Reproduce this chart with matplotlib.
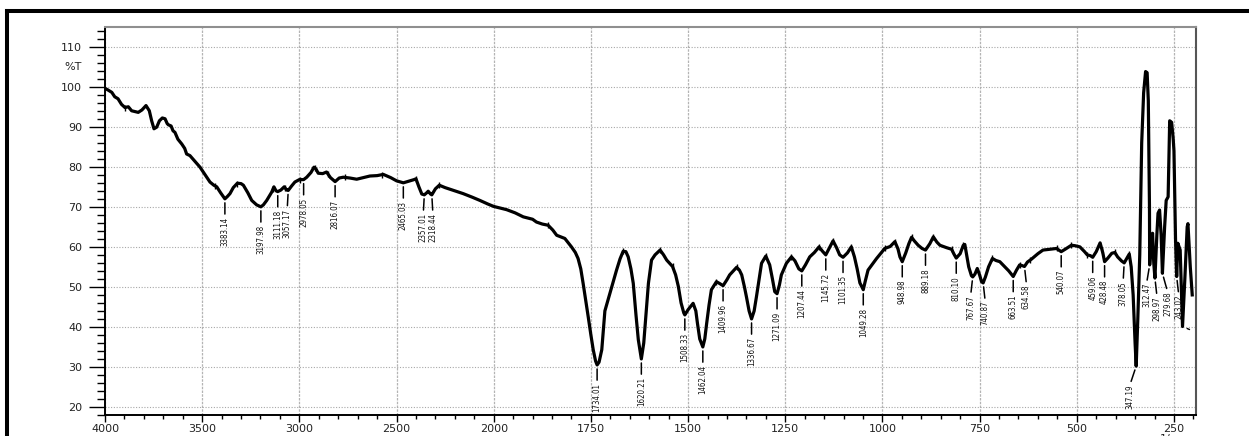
import numpy as np
import matplotlib
matplotlib.use("Agg")
import matplotlib.pyplot as plt
from matplotlib import font_manager
from matplotlib.font_manager import FontProperties
from matplotlib.lines import Line2D

# ---- spectrum: wavenumber (1/cm) and transmittance (%T) ----
wavenumber = [
    4000, 3985, 3965, 3950, 3933, 3915, 3897, 3880, 3863, 3845, 3829, 3810, 3789, 3772,
    3760, 3748, 3734, 3720, 3705, 3691, 3680, 3674, 3660, 3650, 3640, 3625, 3605, 3590,
    3580, 3563, 3540, 3511, 3485, 3460, 3440, 3425, 3405, 3383.14, 3370, 3357, 3340, 3319,
    3300, 3288, 3265, 3245, 3220, 3197.98, 3185, 3168, 3142, 3131, 3120, 3111.18, 3095,
    3078, 3065, 3057.17, 3040, 3023, 3000, 2978.05, 2962, 2940, 2925, 2915, 2903, 2880,
    2860, 2840, 2816.07, 2795, 2774, 2740, 2705, 2670, 2637, 2600, 2568, 2530, 2500,
    2465.03, 2430, 2410, 2400, 2385, 2370, 2357.01, 2345, 2337, 2325, 2318.44, 2300, 2280,
    2250, 2200, 2157, 2110, 2071, 2030, 2000, 1967, 1945, 1924, 1900, 1890, 1875, 1860,
    1848, 1838, 1817, 1800, 1790, 1783, 1776, 1770, 1763, 1757, 1750, 1744, 1738, 1734.01,
    1729, 1722, 1714, 1701, 1684, 1675, 1667, 1660, 1654, 1647, 1641, 1634, 1628, 1620.21,
    1614, 1608, 1602, 1594, 1585, 1572, 1563, 1555, 1540, 1532, 1525, 1518, 1511, 1508.33,
    1500, 1487, 1480, 1476, 1470, 1462.04, 1457, 1452, 1446, 1440, 1427, 1418, 1409.96,
    1400, 1393, 1375, 1368, 1362, 1355, 1350, 1343, 1336.67, 1330, 1324, 1318, 1311, 1300,
    1290, 1283, 1277, 1271.09, 1265, 1260, 1247, 1234, 1225, 1215, 1207.44, 1198, 1187,
    1175, 1163, 1155, 1145.72, 1135, 1127, 1118, 1110, 1101.35, 1090, 1080, 1072, 1065,
    1058, 1049.28, 1044, 1037, 1025, 1015, 1005, 994, 980, 968, 960, 955, 948.98, 940, 932,
    925, 918, 908, 898, 889.18, 878, 869, 860, 852, 835, 822, 816, 810.10, 800, 792, 788,
    784, 778, 771, 767.67, 762, 756, 750, 745, 740.87, 735, 727, 717, 708, 698, 685, 675,
    667, 663.51, 655, 647, 640, 634.58, 627, 617, 600, 587, 570, 552, 546, 540.07, 530,
    514, 505, 492, 480, 473, 465, 459.06, 450, 440, 433, 428.48, 420, 410, 402, 395, 385,
    378.05, 372, 365, 360, 355, 350, 347.19, 343, 338, 333, 328, 323, 319, 316, 313,
    312.47, 308, 305, 302, 298.97, 294, 291, 287, 283, 279.68, 274, 270, 265, 261, 256,
    252, 250, 246, 243.02, 240, 234, 228, 222, 216, 214, 208, 203,
]
transmittance = [
    99.6, 99.2, 98.6, 97.5, 97.0, 95.6, 94.8, 95.0, 94.0, 93.8, 93.6, 94.2, 95.3, 94.0,
    91.5, 89.5, 89.9, 91.5, 92.2, 92.0, 90.8, 90.5, 90.2, 89.0, 88.6, 86.9, 85.7, 84.6,
    83.2, 82.8, 81.5, 79.9, 78.0, 76.2, 75.4, 75.0, 73.5, 72.0, 72.6, 73.3, 74.8, 75.9,
    75.8, 75.4, 73.5, 71.6, 70.5, 70.0, 70.5, 71.6, 73.7, 75.0, 74.0, 73.8, 74.2,
    75.0, 74.2, 74.1, 75.2, 76.2, 76.8, 76.8, 77.4, 78.6, 79.9, 79.5, 78.4, 78.3,
    78.7, 77.3, 76.3, 77.2, 77.4, 77.2, 76.9, 77.3, 77.7, 77.8, 78.1, 77.3, 76.5,
    76.0, 76.5, 76.8, 77.0, 75.0, 73.2, 73.0, 73.5, 73.9, 73.2, 73.0, 74.5, 75.4,
    74.8, 74.0, 73.3, 72.4, 71.6, 70.7, 70.1, 69.3, 68.5, 67.5, 66.9, 66.2, 65.7, 65.4,
    64.2, 62.9, 62.1, 60.0, 58.6, 57.1, 54.5, 50.9, 46.5, 42.6, 38.0, 34.3, 31.5, 30.5,
    31.2, 34.3, 44.0, 48.4, 54.2, 57.0, 58.9, 58.8, 57.5, 54.5, 50.9, 43.0, 36.8, 32.0,
    36.0, 43.5, 50.9, 56.7, 58.0, 59.2, 58.0, 56.7, 55.1, 53.0, 50.1, 46.0, 43.5, 43.0,
    44.3, 45.9, 44.0, 41.0, 37.0, 35.0, 37.0, 41.0, 45.5, 49.3, 51.3, 50.8, 50.3,
    51.8, 53.0, 54.9, 54.2, 53.0, 50.0, 47.6, 44.0, 42.0, 44.0, 47.6, 51.5, 55.9, 57.7,
    55.5, 52.0, 48.8, 48.3, 50.5, 53.0, 55.9, 57.5, 56.5, 54.5, 54.0, 55.5, 57.5,
    58.6, 60.0, 59.0, 58.0, 60.0, 61.5, 59.8, 58.0, 57.4, 58.5, 60.0, 57.5, 54.5,
    51.0, 49.3, 51.5, 54.2, 55.8, 57.1, 58.3, 59.6, 60.1, 61.3, 59.5, 57.5, 56.3, 58.5, 60.8,
    62.4, 61.5, 60.4, 59.6, 59.2, 60.8, 62.5, 61.2, 60.4, 59.8, 59.4, 58.2, 57.2, 58.3, 60.4, 60.6,
    58.4, 55.0, 52.8, 52.5, 53.2, 54.6, 53.0, 51.3, 51.0, 52.5, 55.0, 57.1, 56.6, 56.3, 55.0, 54.0,
    53.0, 52.6, 54.2, 55.5, 55.3, 55.1, 56.2, 56.9, 58.3, 59.2, 59.4, 59.6, 59.2, 58.8, 59.4,
    60.4, 60.3, 60.0, 58.8, 58.0, 57.8, 57.4, 58.8, 61.0, 58.5, 56.3, 57.2, 58.4, 58.6, 57.5, 56.5,
    56.0, 57.0, 58.2, 55.0, 48.0, 36.0, 30.2, 42.0, 58.0, 86.0, 98.5, 103.8, 103.5, 96.5, 70.0,
    55.5, 62.0, 63.4, 56.0, 52.2, 63.0, 68.4, 69.2, 63.0, 53.4, 65.0, 71.6, 72.5, 91.5, 91.1,
    87.0, 84.0, 62.0, 52.6, 60.9, 59.2, 40.1, 52.0, 65.0, 65.8, 55.0, 48.0,
]

# picked absorption bands (labelled) and horizontal nudge of each label in pixels
peak_wavenumbers = [
    3383.14, 3197.98, 3111.18, 3057.17, 2978.05, 2816.07, 2465.03, 2357.01, 2318.44,
    1734.01, 1620.21, 1508.33, 1462.04, 1409.96, 1336.67, 1271.09, 1207.44, 1145.72,
    1101.35, 1049.28, 948.98, 889.18, 810.10, 767.67, 740.87, 663.51, 634.58, 540.07,
    459.06, 428.48, 378.05, 347.19, 312.47, 298.97, 279.68, 243.02,
]
label_nudge_px = [
    0, 0, 0, -1, 0, 0, 0, -1, 1,
    0, 0, 0, 0, 0, 0, 0, 0, 0,
    0, 0, 0, 0, 0, -2, 2, 0, 2, 0,
    0, 0, -1, -6, -3, 2, 5, 2,
]
# small peak-pick ticks drawn across the trace at local maxima
pick_marks = [
    3897, 3434, 3322, 3135, 3074, 2997, 2920, 2852, 2765, 2577, 2400, 2280, 1860, 1667,
    1572, 1540, 1427, 1375, 1300, 1234, 1163, 1127, 1080, 994, 968, 925, 869, 822, 792,
    717, 647, 620, 552, 514, 473, 435, 402, 365,
]

x_major = [4000, 3500, 3000, 2500, 2000, 1750, 1500, 1250, 1000, 750, 500, 250]
y_major = [20, 30, 40, 50, 60, 70, 80, 90, 100, 110]

wn = np.asarray(wavenumber, float)
tr = np.asarray(transmittance, float)


def trace_at(w):
    return np.interp(w, wn[::-1], tr[::-1])


# split abscissa: 500 1/cm per division above 2000, 250 1/cm per division below
# (monotonically increasing; the axis limits are given high-to-low so 4000 sits left)
def fwd(x):
    x = np.asarray(x, float)
    return np.where(x >= 2000, (x - 4000.0) / 500.0, -4.0 - (2000.0 - x) / 250.0)


def inv(u):
    u = np.asarray(u, float)
    return np.where(u >= -4, 4000.0 + 500.0 * u, 2000.0 + 250.0 * (u + 4.0))


def narrow_font(size):
    """Pick a condensed sans face for the small peak labels."""
    entries = font_manager.fontManager.ttflist

    def regular(f):
        return f.style == "normal" and f.weight in (400, "normal", "regular", "book")

    for f in entries:
        if f.name == "Liberation Sans Narrow" and regular(f):
            return FontProperties(fname=f.fname, size=size), 1.0
    for f in entries:
        if "condensed" in str(f.stretch).lower() and f.name == "DejaVu Sans" and regular(f):
            return FontProperties(fname=f.fname, size=size), 0.92
    for f in entries:
        if ("Narrow" in f.name or "Condensed" in f.name
                or "condensed" in str(f.stretch).lower()) and regular(f):
            return FontProperties(fname=f.fname, size=size), 1.0
    return FontProperties(family="DejaVu Sans", size=size * 0.85), 1.0


W, H = 1249, 436
fig = plt.figure(figsize=(W / 100, H / 100), dpi=100)
fig.patch.set_facecolor("white")

left_px, right_px, top_px, bottom_px = 105, 1196, 26.7, 415
ax = fig.add_axes([left_px / W, (H - bottom_px) / H,
                   (right_px - left_px) / W, (bottom_px - top_px) / H])
ax.set_xscale("function", functions=(fwd, inv))
ax.set_xlim(4000, 193.3)
ax.set_ylim(18.33, 115.0)

# trace
ax.plot(wn, tr, color="black", lw=2.3, solid_joinstyle="round", zorder=4)
ax.plot(pick_marks, trace_at(np.asarray(pick_marks, float)), ls="none", marker="|",
        ms=5, mew=1.0, color="black", zorder=5)

# peak labels
pt_per_px = 0.72
label_fp, _scale = narrow_font(6.2)
label_fp.set_size(label_fp.get_size() * _scale)
for w, dx in zip(peak_wavenumbers, label_nudge_px):
    ax.annotate(f"{w:.2f}", xy=(w, trace_at(w)), xytext=(dx * pt_per_px, -18 * pt_per_px),
                textcoords="offset points", rotation=90, ha="center", va="top",
                fontproperties=label_fp, color="#111111", zorder=2,
                arrowprops=dict(arrowstyle="-", color="black", lw=1.1,
                                shrinkA=0, shrinkB=4 * pt_per_px, relpos=(0.5, 1.0)))
# connector of the last band, whose label falls outside the frame
ax.annotate("", xy=(228, trace_at(228)), xytext=(7 * pt_per_px, -3 * pt_per_px),
            textcoords="offset points", zorder=2,
            arrowprops=dict(arrowstyle="-", color="black", lw=1.0,
                            shrinkA=0, shrinkB=5 * pt_per_px))

# axes, ticks, grid
ax.set_xticks(x_major)
ax.set_xticklabels([str(v) for v in x_major])
x_minor = [v for v in range(3900, 2000, -100) if v not in x_major] + \
          [v for v in range(1950, 150, -50) if v not in x_major]
ax.set_xticks(x_minor, minor=True)
ax.set_yticks(y_major)
ax.set_yticklabels([str(v) for v in y_major])
ax.set_yticks([v for v in range(18, 116, 2) if v % 10 != 0], minor=True)

ax.tick_params(axis="y", which="major", direction="out", length=11.5, width=1.0,
               pad=5, labelsize=8, labelcolor="#222222")
ax.tick_params(axis="y", which="minor", direction="out", length=5.5, width=1.0)
ax.tick_params(axis="x", which="major", direction="out", length=5, width=1.0,
               pad=1.5, labelsize=8, labelcolor="#222222")
ax.tick_params(axis="x", which="minor", direction="out", length=3, width=1.0)

ax.grid(True, axis="y", which="major", color="#a8a8a8", lw=0.8, ls=(0, (1, 1.5)), zorder=0)
ax.grid(True, axis="x", which="major", color="#b4b4b4", lw=0.9, ls=(0, (2, 1)), zorder=0)
ax.set_axisbelow(True)

for side, col, lw in (("left", "black", 1.4), ("bottom", "black", 1.4),
                      ("top", "#8f8f8f", 1.5), ("right", "#555555", 1.5)):
    ax.spines[side].set_color(col)
    ax.spines[side].set_linewidth(lw)

ax.annotate("%T", xy=(0, 105), xycoords=("axes fraction", "data"),
            xytext=(-23 * pt_per_px, 0), textcoords="offset points",
            ha="right", va="center", fontsize=8, color="#222222")
ax.annotate("1/cm", xy=(250, 0), xycoords=("data", "axes fraction"),
            xytext=(0, -19 * pt_per_px), textcoords="offset points",
            ha="center", va="top", fontsize=8, color="#222222", annotation_clip=False)

# outer frame of the sheet
fig.add_artist(Line2D([7 / W, 7 / W], [-0.05, (H - 11.3) / H], transform=fig.transFigure,
                      color="black", lw=2.9, solid_capstyle="projecting"))
fig.add_artist(Line2D([7 / W, 1.05], [(H - 11.3) / H, (H - 11.3) / H],
                      transform=fig.transFigure, color="black", lw=2.9,
                      solid_capstyle="projecting"))

fig.savefig("out.png", dpi=100)
